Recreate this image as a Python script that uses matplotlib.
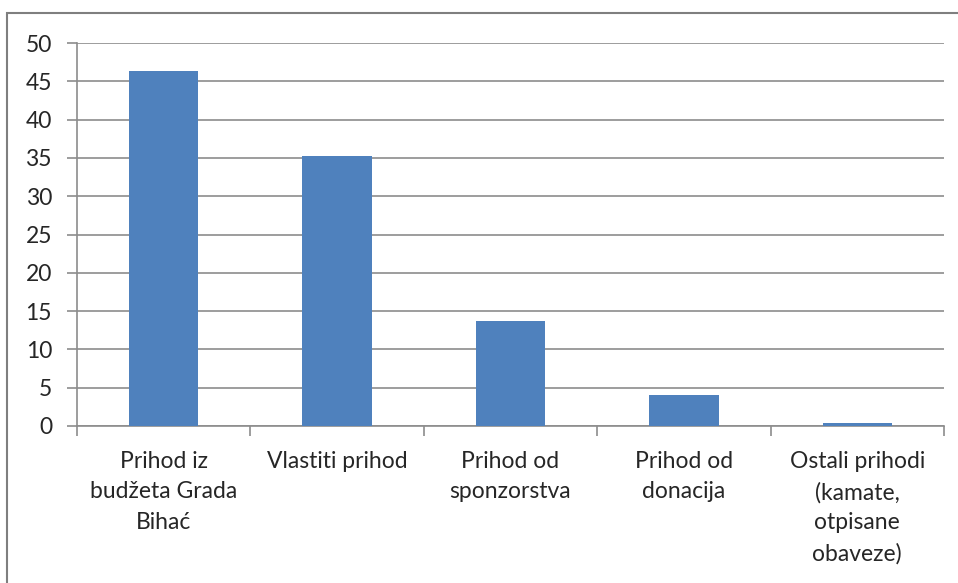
"""Bar chart: struktura prihoda (income structure)."""

import matplotlib.pyplot as plt
from matplotlib.patches import Rectangle

categories = [
    "Prihod iz\nbudžeta Grada\nBihać",
    "Vlastiti prihod",
    "Prihod od\nsponzorstva",
    "Prihod od\ndonacija",
    "Ostali prihodi\n(kamate,\notpisane\nobaveze)",
]
values = [46.3, 35.3, 13.7, 4.1, 0.4]
y_ticks = [0, 5, 10, 15, 20, 25, 30, 35, 40, 45, 50]

BAR_COLOR = "#4F81BD"
GRID_COLOR = "#8C8C8C"
TEXT_COLOR = "#262626"

plt.rcParams["font.family"] = ["Lato", "DejaVu Sans"]

W, H = 958, 583
fig = plt.figure(figsize=(W / 100, H / 100), dpi=100)
ax = fig.add_axes([77 / W, 1 - 426 / H, (944 - 77) / W, (426 - 43) / H])

x = list(range(len(categories)))
ax.bar(x, values, width=0.4, color=BAR_COLOR, zorder=3)

ax.set_xlim(-0.5, len(categories) - 0.5)
ax.set_ylim(0, 50)
ax.set_yticks(y_ticks)
ax.yaxis.grid(True, color=GRID_COLOR, linewidth=1.2, zorder=0)

# category labels centred, boundary ticks between them
ax.set_xticks(x)
ax.set_xticklabels(categories, fontsize=16.5, linespacing=1.55, va="top",
                   color=TEXT_COLOR)
ax.tick_params(axis="x", which="major", length=0, pad=18)
ax.set_xticks([i - 0.5 for i in range(len(categories) + 1)], minor=True)
ax.tick_params(axis="x", which="minor", length=7, color=GRID_COLOR, width=1.2)
ax.tick_params(axis="y", length=7, color=GRID_COLOR, width=1.2, labelsize=16.5,
               pad=11, labelcolor=TEXT_COLOR)

for side in ("top", "right"):
    ax.spines[side].set_visible(False)
for side in ("left", "bottom"):
    ax.spines[side].set_color(GRID_COLOR)
    ax.spines[side].set_linewidth(1.2)

# outer chart frame
fig.patches.append(Rectangle((7 / W, -0.1), 1.2, 1 - 13 / H + 0.1,
                             transform=fig.transFigure, fill=False,
                             edgecolor="#7F7F7F", linewidth=1.5))

fig.savefig("out.png", dpi=100)
